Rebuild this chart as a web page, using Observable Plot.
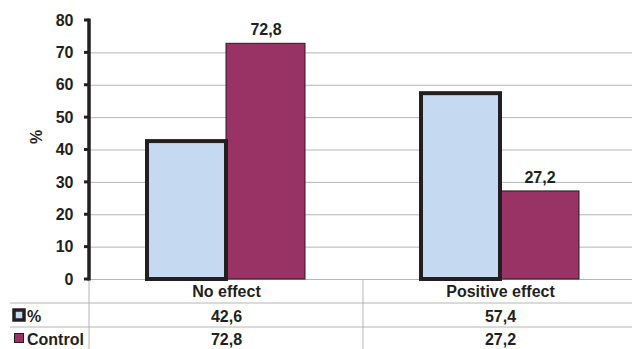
<!DOCTYPE html>
<html>
<head>
<meta charset="utf-8">
<script src="https://cdn.jsdelivr.net/npm/d3@7"></script>
<script src="https://cdn.jsdelivr.net/npm/@observablehq/plot@0.6"></script>
<style>
  body { margin: 0; background: #fff; }
  svg { display: block; font-family: "Liberation Sans", Arial, sans-serif; }
</style>
</head>
<body>
<div id="chart"></div>
<script>
// Outcome categories and the two series compared in each
const categories = ["No effect", "Positive effect"];
const seriesNames = ["%", "Control"];
const pctValues = [42.6, 57.4];
const controlValues = [72.8, 27.2];
const yTicks = [0, 10, 20, 30, 40, 50, 60, 70, 80];
const gridTicks = [10, 20, 30, 40, 50, 60, 70];
const yLabel = "%";

const ink = "#231f20";
const grid = "#b5b5b5";
const colors = { "%": "#c5d9f1", "Control": "#993366" };

const fmt = v => v.toFixed(1).replace(".", ",");

const rows = categories.flatMap((c, i) => [
  { category: c, series: seriesNames[0], value: pctValues[i] },
  { category: c, series: seriesNames[1], value: controlValues[i] }
]);
const pctRows = rows.filter(d => d.series === seriesNames[0]);
const ctlRows = rows.filter(d => d.series === seriesNames[1]);

const W = 632, H = 349;
const bold = { fontSize: 16, fontWeight: "bold", fill: ink };
const cell = { frameAnchor: "bottom", lineAnchor: "middle", ...bold };

const plot = Plot.plot({
  width: W,
  height: H,
  marginTop: 20,
  marginBottom: 70,
  marginLeft: 89,
  marginRight: -5,
  style: { fontFamily: "Liberation Sans, Arial, sans-serif", color: ink, background: "#fff" },
  fx: { domain: categories, padding: 0, axis: null, label: null },
  x: { domain: seriesNames, paddingInner: 0, paddingOuter: 0.72, axis: null, label: null },
  y: { domain: [0, 80], axis: null },
  marks: [
    Plot.ruleY(gridTicks, { stroke: grid, strokeWidth: 1 }),
    Plot.ruleY([0], { stroke: grid, strokeWidth: 1 }),
    Plot.axisY({
      ticks: yTicks, tickSize: 0, tickPadding: 16,
      fontSize: 16, fontWeight: "bold", label: null, color: ink, fill: ink,
      tickFormat: d => String(d)
    }),
    Plot.barY(ctlRows, { fx: "category", x: "series", y: "value", fill: colors["Control"], stroke: ink, strokeWidth: 1 }),
    Plot.barY(pctRows, { fx: "category", x: "series", y: "value", fill: colors["%"], stroke: ink, strokeWidth: 4 }),
    Plot.text(ctlRows, { fx: "category", x: "series", y: "value", text: d => fmt(d.value), dy: -14, ...bold }),
    // data table under the plot: category row, then one row per series
    Plot.text(categories, { fx: d => d, text: d => d, dy: 12, ...cell }),
    Plot.text(pctRows, { fx: "category", text: d => fmt(d.value), dy: 37, ...cell }),
    Plot.text(ctlRows, { fx: "category", text: d => fmt(d.value), dy: 60, ...cell })
  ]
});

document.getElementById("chart").appendChild(plot);

// table grid, axis line with ticks, y label and row legend
const svg = d3.select(plot);
const y = plot.scale("y");
const fx = plot.scale("fx");
const y0 = y.apply(0);
const yTop = y.apply(80);
const left = fx.range[0];
const mid = (fx.range[0] + fx.range[1]) / 2;

[y0 + 24, y0 + 48].forEach(yy => {
  svg.append("line").attr("x1", 10).attr("x2", W).attr("y1", yy).attr("y2", yy)
    .attr("stroke", grid).attr("stroke-width", 1);
});
[left, mid].forEach(xx => {
  svg.append("line").attr("x1", xx).attr("x2", xx).attr("y1", y0).attr("y2", H)
    .attr("stroke", grid).attr("stroke-width", 1);
});
yTicks.forEach(t => {
  const yy = y.apply(t);
  svg.append("line").attr("x1", left - 5).attr("x2", left).attr("y1", yy).attr("y2", yy)
    .attr("stroke", ink).attr("stroke-width", 3);
});
svg.append("line").attr("x1", left).attr("x2", left).attr("y1", yTop - 1.5).attr("y2", y0 + 1.5)
  .attr("stroke", ink).attr("stroke-width", 3.5);

svg.append("text").attr("transform", "translate(42,137) rotate(-90)")
  .attr("text-anchor", "middle").attr("font-size", 16).attr("font-weight", "bold")
  .attr("fill", ink).text(yLabel);

// row legend
svg.append("rect").attr("x", 14).attr("y", 310).attr("width", 10).attr("height", 10)
  .attr("fill", colors["%"]).attr("stroke", ink).attr("stroke-width", 3.5);
svg.append("rect").attr("x", 14.5).attr("y", 333.5).attr("width", 9).attr("height", 9)
  .attr("fill", colors["Control"]).attr("stroke", ink).attr("stroke-width", 1);
[[seriesNames[0], y0 + 37], [seriesNames[1], y0 + 60]].forEach(([t, yy]) => {
  svg.append("text").attr("x", 27).attr("y", yy).attr("dy", "0.35em").attr("text-anchor", "start")
    .attr("font-size", 16).attr("font-weight", "bold").attr("fill", ink).text(t);
});
</script>
</body>
</html>
